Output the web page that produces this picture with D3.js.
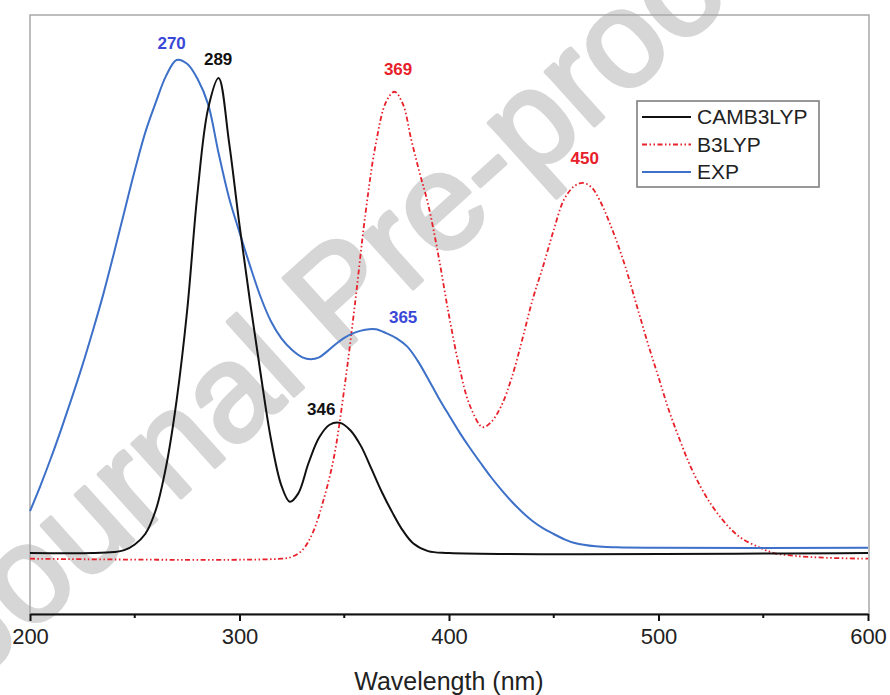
<!DOCTYPE html>
<html>
<head>
<meta charset="utf-8">
<script src="https://cdn.jsdelivr.net/npm/d3@7"></script>
<style>
  body { margin: 0; background: #fff; }
  svg { font-family: "Liberation Sans", Arial, sans-serif; }
</style>
</head>
<body>
<div id="chart"></div>
<script>
// Spectra: [wavelength (nm), normalised absorbance]
const camb3lyp = [
  [200, 0], [230, 0], [240, 0.002], [245, 0.006], [250, 0.018], [255, 0.04],
  [260, 0.09], [265, 0.183], [270, 0.322], [275, 0.51], [280, 0.76], [285, 0.935],
  [290, 1.0], [295, 0.865], [300, 0.69], [305, 0.53], [310, 0.38], [315, 0.24],
  [320, 0.142], [324, 0.108], [328, 0.125], [333, 0.19], [338, 0.243], [343, 0.27],
  [348, 0.274], [353, 0.258], [358, 0.225], [363, 0.177], [368, 0.128], [373, 0.085],
  [378, 0.047], [383, 0.02], [390, 0.004], [400, 0], [600, 0]
];

const b3lyp = [
  [200, -0.012], [320, -0.012], [325, -0.008], [330, 0.006], [335, 0.043], [340, 0.11],
  [345, 0.2], [350, 0.345], [355, 0.52], [360, 0.71], [365, 0.86], [370, 0.95],
  [374, 0.971], [378, 0.945], [382, 0.87], [386, 0.8], [390, 0.735], [395, 0.625],
  [400, 0.5], [405, 0.39], [410, 0.31], [416, 0.265], [420, 0.275], [425, 0.31],
  [430, 0.37], [435, 0.45], [440, 0.535], [445, 0.605], [450, 0.68], [455, 0.745],
  [460, 0.773], [464, 0.779], [468, 0.77], [472, 0.742], [478, 0.68], [484, 0.605],
  [490, 0.515], [495, 0.44], [500, 0.37], [505, 0.3], [510, 0.24], [515, 0.185],
  [520, 0.14], [525, 0.103], [530, 0.073], [535, 0.048], [540, 0.03], [548, 0.012],
  [555, 0.0], [565, -0.006], [580, -0.01], [600, -0.012]
];

const exp = [
  [200, 0.088], [205, 0.142], [210, 0.2], [215, 0.262], [220, 0.327], [225, 0.395],
  [230, 0.468], [235, 0.545], [240, 0.63], [245, 0.718], [250, 0.805], [255, 0.885],
  [260, 0.948], [265, 1.005], [270, 1.038], [275, 1.03], [280, 0.998], [285, 0.945],
  [290, 0.842], [295, 0.748], [300, 0.675], [305, 0.605], [310, 0.54], [315, 0.488],
  [320, 0.452], [325, 0.428], [330, 0.412], [334, 0.408], [338, 0.412], [342, 0.425],
  [346, 0.44], [350, 0.453], [355, 0.464], [360, 0.47], [365, 0.471], [370, 0.463],
  [375, 0.452], [380, 0.435], [385, 0.405], [390, 0.367], [395, 0.327], [400, 0.29],
  [405, 0.254], [410, 0.221], [415, 0.19], [420, 0.16], [425, 0.133], [430, 0.108],
  [435, 0.086], [440, 0.067], [445, 0.052], [450, 0.04], [455, 0.029], [460, 0.021],
  [470, 0.014], [480, 0.012], [500, 0.011], [600, 0.011]
];

const seriesNames = ["CAMB3LYP", "B3LYP", "EXP"];
const xTicks = [200, 300, 400, 500, 600];
const xMinorTicks = [250, 350, 450, 550];

// peak annotations, placed in data units
const peakLabels = [
  {text: "270", series: "EXP", wl: 267.6, v: 1.061},
  {text: "289", series: "CAMB3LYP", wl: 289.8, v: 1.027},
  {text: "369", series: "B3LYP", wl: 375.7, v: 1.006},
  {text: "450", series: "B3LYP", wl: 464.8, v: 0.819},
  {text: "365", series: "EXP", wl: 378.1, v: 0.484},
  {text: "346", series: "CAMB3LYP", wl: 339.0, v: 0.291}
];

const width = 890;
const height = 695;
const margin = {top: 15, left: 30, right: 21, bottom: 81};

const lineColors = {CAMB3LYP: "#111111", B3LYP: "#e8202a", EXP: "#3d70c8"};
const labelColors = {CAMB3LYP: "#111111", B3LYP: "#e8202a", EXP: "#3a48d8"};
const dashes = {CAMB3LYP: null, B3LYP: "5,2.5,1.5,2.5,1.5,2.5", EXP: null};

const svg = d3.select("#chart")
  .append("svg")
    .attr("width", width)
    .attr("height", height);

// watermark sits behind everything
svg.append("text")
  .attr("transform", "translate(-24,682) rotate(-42)")
  .attr("fill", "#d6d6d6")
  .attr("stroke", "#d6d6d6")
  .attr("stroke-width", 4)
  .attr("stroke-linejoin", "round")
  .style("font-size", "137px")
  .text("Journal Pre-proof");

const xScale = d3.scaleLinear()
  .domain([200, 600])
  .range([margin.left, width - margin.right - 1]);

const yScale = d3.scaleLinear()
  .domain([-0.1284, 1.1326])
  .range([height - margin.bottom, margin.top]);

// frame
svg.append("rect")
  .attr("x", margin.left)
  .attr("y", margin.top)
  .attr("width", width - margin.left - margin.right)
  .attr("height", height - margin.top - margin.bottom)
  .attr("fill", "none")
  .attr("stroke", "#a8a8a8")
  .attr("stroke-width", 1.5);

// bottom axis
const xAxis = d3.axisBottom(xScale)
  .tickValues(xTicks)
  .tickSize(7)
  .tickSizeOuter(0)
  .tickFormat(d3.format("d"));

const axisG = svg.append("g")
  .attr("class", "axis-x")
  .attr("transform", `translate(0, ${height - margin.bottom})`)
  .call(xAxis);

axisG.select(".domain").attr("stroke", "#111").attr("stroke-width", 2);
axisG.selectAll(".tick line").attr("stroke", "#111").attr("stroke-width", 2);
axisG.selectAll(".tick text")
  .attr("fill", "#222")
  .attr("y", 14)
  .style("font-size", "22px")
  .style("font-family", "'Liberation Sans', Arial, sans-serif");

axisG.selectAll(".minor")
  .data(xMinorTicks)
  .enter()
  .append("line")
  .attr("class", "minor")
  .attr("x1", d => xScale(d))
  .attr("x2", d => xScale(d))
  .attr("y1", 0)
  .attr("y2", 4)
  .attr("stroke", "#111")
  .attr("stroke-width", 2);

svg.append("text")
  .attr("x", (xScale(200) + xScale(600)) / 2)
  .attr("y", 690)
  .attr("text-anchor", "middle")
  .attr("fill", "#222")
  .style("font-size", "25px")
  .text("Wavelength (nm)");

// curves
const line = d3.line()
  .x(d => xScale(d[0]))
  .y(d => yScale(d[1]))
  .curve(d3.curveCatmullRom.alpha(0.5));

const allSeries = {CAMB3LYP: camb3lyp, B3LYP: b3lyp, EXP: exp};

// draw red first so the solid lines sit on top of it
["B3LYP", "EXP", "CAMB3LYP"].forEach(name => {
  svg.append("path")
    .datum(allSeries[name])
    .attr("fill", "none")
    .attr("stroke", lineColors[name])
    .attr("stroke-width", name === "B3LYP" ? 1.8 : 2)
    .attr("stroke-dasharray", dashes[name])
    .attr("d", line);
});

// peak labels
svg.selectAll(".peak")
  .data(peakLabels)
  .enter()
  .append("text")
  .attr("class", "peak")
  .attr("x", d => xScale(d.wl))
  .attr("y", d => yScale(d.v))
  .attr("text-anchor", "middle")
  .attr("fill", d => labelColors[d.series])
  .style("font-size", "17px")
  .style("font-weight", "bold")
  .text(d => d.text);

// legend
const legend = svg.append("g")
  .attr("class", "legend")
  .attr("transform", "translate(637, 101)");

legend.append("rect")
  .attr("width", 182)
  .attr("height", 86)
  .attr("fill", "#fff")
  .attr("stroke", "#777")
  .attr("stroke-width", 1.5);

const rows = legend.selectAll(".row")
  .data(seriesNames)
  .enter()
  .append("g")
  .attr("class", "row")
  .attr("transform", (d, i) => `translate(0, ${16 + i * 27.5})`);

rows.append("line")
  .attr("x1", 5)
  .attr("x2", 54)
  .attr("stroke", d => lineColors[d])
  .attr("stroke-width", 2)
  .attr("stroke-dasharray", d => dashes[d]);

rows.append("text")
  .attr("x", 60)
  .attr("y", 7)
  .attr("fill", "#222")
  .style("font-size", "21px")
  .text(d => d);
</script>
</body>
</html>
